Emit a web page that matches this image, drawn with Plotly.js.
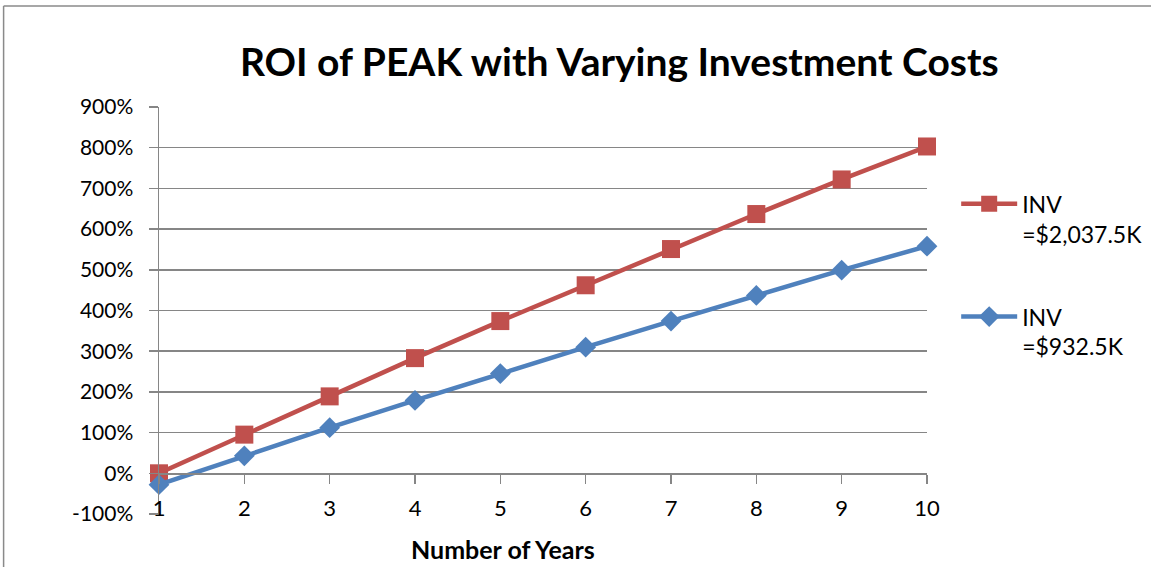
<!DOCTYPE html>
<html>
<head>
<meta charset="utf-8">
<script src="https://cdn.plot.ly/plotly-3.0.1.min.js"></script>
<style>
  html, body { margin: 0; padding: 0; background: #fff; }
  #chart { width: 1151px; height: 567px; }
</style>
</head>
<body>
<div id="chart"></div>
<script>
// ---- data ----
const years = [1, 2, 3, 4, 5, 6, 7, 8, 9, 10];
const yearLabels = ['1', '2', '3', '4', '5', '6', '7', '8', '9', '10'];
const roiHighInv = [0, 95, 189, 283, 374, 462, 551, 637, 722, 803];   // INV =$2,037.5K (percent)
const roiLowInv = [-28, 43, 112, 179, 245, 310, 374, 437, 499, 558];  // INV =$932.5K (percent)
const seriesNames = ['INV<br>=$2,037.5K', 'INV<br>=$932.5K'];
const yTickVals = [-100, 0, 100, 200, 300, 400, 500, 600, 700, 800, 900];
const yTickLabels = ['-100%', '0%', '100%', '200%', '300%', '400%', '500%', '600%', '700%', '800%', '900%'];

const RED = '#C0504D';
const BLUE = '#4F81BD';
const GRID = '#868686';
const FONT = 'Lato, "Open Sans", sans-serif';

const traces = [
  {
    x: years, y: roiHighInv, name: seriesNames[0], type: 'scatter', mode: 'lines+markers',
    legendgroup: 'a', cliponaxis: false,
    line: { color: RED, width: 4.5 },
    marker: { symbol: 'square', size: 18, color: RED }
  },
  {
    x: years, y: roiLowInv, name: seriesNames[1], type: 'scatter', mode: 'lines+markers',
    legendgroup: 'b', cliponaxis: false,
    line: { color: BLUE, width: 4.5 },
    marker: { symbol: 'diamond', size: 16, color: BLUE }
  }
];

const layout = {
  width: 1151, height: 567,
  paper_bgcolor: '#fff', plot_bgcolor: '#fff',
  margin: { l: 159, r: 223.5, t: 106.5, b: 52.7, pad: 0, autoexpand: false },
  font: { family: FONT, size: 21, color: '#000' },
  title: {
    text: '<b>ROI of PEAK with Varying Investment Costs</b>',
    font: { family: FONT, size: 39, color: '#000' },
    x: 0.538, xref: 'container', xanchor: 'center',
    y: 0.89, yref: 'container', yanchor: 'middle'
  },
  showlegend: true,
  legend: {
    x: 1.038, xanchor: 'left', y: 0.815, yanchor: 'top',
    font: { family: FONT, size: 23, color: '#000' },
    valign: 'top', tracegroupgap: 50, traceorder: 'grouped',
    itemwidth: 56, bgcolor: 'rgba(0,0,0,0)'
  },
  xaxis: {
    range: [1, 10], tickmode: 'array', tickvals: years, ticktext: yearLabels,
    anchor: 'free', position: 0.1,
    showline: true, linecolor: GRID, linewidth: 1.5,
    ticks: 'outside', ticklen: 9, tickcolor: GRID, tickwidth: 1.5,
    showgrid: false, zeroline: false,
    ticklabelstandoff: 6,
    tickfont: { family: FONT, size: 22, color: '#000' }
  },
  yaxis: {
    range: [-100, 900], tickmode: 'array', tickvals: yTickVals, ticktext: yTickLabels,
    showline: true, linecolor: GRID, linewidth: 1.5,
    ticks: 'outside', ticklen: 9, tickcolor: GRID, tickwidth: 1.5,
    showgrid: true, gridcolor: GRID, gridwidth: 1.5,
    zeroline: false,
    ticklabelstandoff: 11,
    tickfont: { family: FONT, size: 21, color: '#000' }
  },
  annotations: [
    {
      text: '<b>Number of Years</b>', xref: 'paper', yref: 'paper',
      x: 0.448, y: -0.085, xanchor: 'center', yanchor: 'middle', showarrow: false,
      font: { family: FONT, size: 25, color: '#000' }
    },
    {
      text: '<b>ROI</b>', xref: 'container', yref: 'paper', textangle: -90,
      x: 42 / 1151, y: 0.5, xanchor: 'center', yanchor: 'middle', showarrow: false,
      font: { family: FONT, size: 23, color: '#000' }
    }
  ],
  shapes: [
    { type: 'line', xref: 'paper', yref: 'paper', x0: -155.5 / 768.5, x1: -155.5 / 768.5, y0: -0.2, y1: 1.248,
      line: { color: '#8a8a8a', width: 1.5 } },
    { type: 'line', xref: 'paper', yref: 'paper', x0: -155.5 / 768.5, x1: 1.4, y0: 1.248, y1: 1.248,
      line: { color: '#8a8a8a', width: 1.5 } }
  ]
};

Plotly.newPlot('chart', traces, layout, { staticPlot: true, displayModeBar: false });
</script>
</body>
</html>
